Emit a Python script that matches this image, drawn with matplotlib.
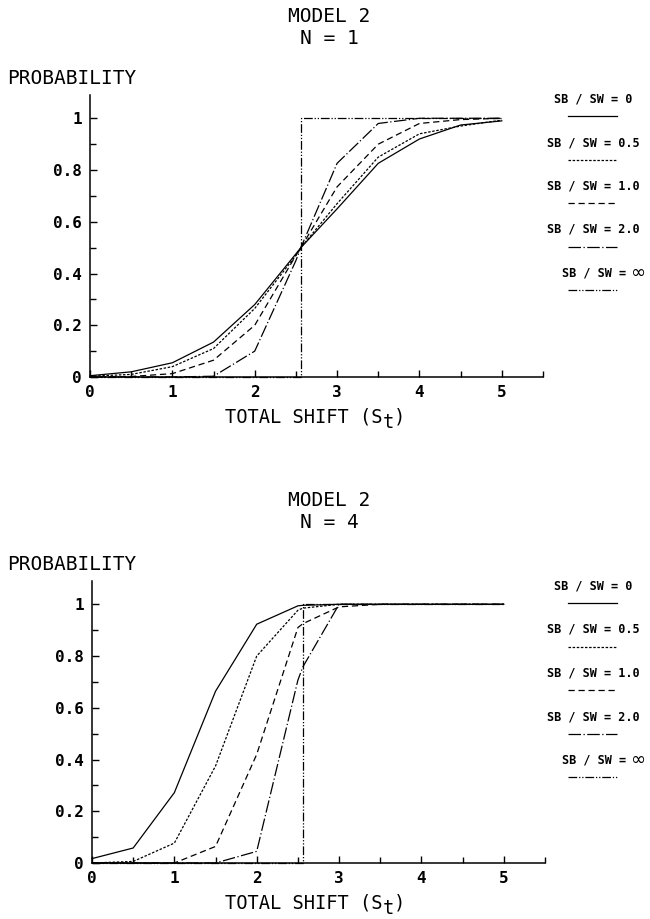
import matplotlib
matplotlib.use('Agg')
import matplotlib.pyplot as plt
from matplotlib.lines import Line2D
from matplotlib.ticker import MultipleLocator

plt.rcParams['font.family'] = ['DejaVu Sans Mono', 'DejaVu Sans']

# shift values (2.56 = crossing / step point)
shift = [0, 0.5, 1, 1.5, 2, 2.5, 2.56, 3, 3.5, 4, 4.5, 5]
step_x = [0, 2.56, 2.56, 5]
step_y = [0, 0, 1, 1]

# N = 1
n1_r0   = [0.005, 0.02, 0.055, 0.135, 0.28, 0.476, 0.5, 0.65, 0.826, 0.92, 0.974, 0.99]
n1_r05  = [0.003, 0.01, 0.04, 0.11, 0.265, 0.47, 0.5, 0.67, 0.85, 0.94, 0.97, 0.993]
n1_r10  = [0.0, 0.002, 0.013, 0.065, 0.2, 0.47, 0.5, 0.735, 0.9, 0.98, 0.995, 1.0]
n1_r20  = [0.0, 0.0, 0.0, 0.003, 0.1, 0.45, 0.5, 0.826, 0.98, 1.0, 1.0, 1.0]

# N = 4
n4_r0   = [0.017, 0.058, 0.272, 0.664, 0.923, 0.994, 0.996, 1.0, 1.0, 1.0, 1.0, 1.0]
n4_r05  = [0.0, 0.006, 0.077, 0.375, 0.8, 0.977, 0.985, 1.0, 1.0, 1.0, 1.0, 1.0]
n4_r10  = [0.0, 0.0, 0.0, 0.064, 0.42, 0.91, 0.925, 0.99, 1.0, 1.0, 1.0, 1.0]
n4_r20  = [0.0, 0.0, 0.0, 0.0, 0.045, 0.707, 0.758, 1.0, 1.0, 1.0, 1.0, 1.0]

legend_labels = ['SB / SW = 0', 'SB / SW = 0.5', 'SB / SW = 1.0',
                 'SB / SW = 2.0', 'SB / SW =']
styles = ['-', (0, (2, 1.3)), (0, (5, 3)), (0, (10, 2, 1, 2)),
          (0, (7, 1.5, 1, 1.5, 1, 1.5))]

W, H = 650, 919
fig = plt.figure(figsize=(6.5, 9.19), dpi=100)
fig.patch.set_facecolor('white')

def fx(px):
    return px / W

def fy(py):
    return 1 - py / H

def panel(top_px, bottom_px, left_px, right_px, series, ntext, title_y, leg_y):
    ax = fig.add_axes([fx(left_px), fy(bottom_px),
                       fx(right_px) - fx(left_px), fy(top_px) - fy(bottom_px)])
    for ys, ls in zip(series, styles[:4]):
        ax.plot(shift, ys, color='black', lw=0.9, linestyle=ls, clip_on=False)
    ax.plot(step_x, step_y, color='black', lw=0.9, linestyle=styles[4], clip_on=False)
    ax.set_xlim(0, 5.5)
    ax.set_ylim(0, 1.09)
    for s in ['top', 'right']:
        ax.spines[s].set_visible(False)
    for s in ['left', 'bottom']:
        ax.spines[s].set_linewidth(1.1)
    ax.set_xticks([0, 1, 2, 3, 4, 5])
    ax.set_xticklabels(['0', '1', '2', '3', '4', '5'])
    ax.set_yticks([0, 0.2, 0.4, 0.6, 0.8, 1.0])
    ax.set_yticklabels(['0', '0.2', '0.4', '0.6', '0.8', '1'])
    ax.xaxis.set_minor_locator(MultipleLocator(0.5))
    ax.yaxis.set_minor_locator(MultipleLocator(0.1))
    ax.tick_params(which='both', direction='in', width=1.0, labelsize=11.5)
    ax.tick_params(which='major', length=5, pad=6)
    ax.tick_params(which='minor', length=4)
    for t in ax.get_xticklabels() + ax.get_yticklabels():
        t.set_fontweight('bold')

    # x label with a full-size, lowered "t"
    xl_y = bottom_px + 40
    fig.text(fx(225), fy(xl_y), 'TOTAL SHIFT (S', ha='left', va='center', fontsize=13.5)
    fig.text(fx(383), fy(xl_y + 6), 't', ha='left', va='center', fontsize=13.5)
    fig.text(fx(394), fy(xl_y), ')', ha='left', va='center', fontsize=13.5)

    fig.text(fx(329), fy(title_y), 'MODEL 2', ha='center', va='center', fontsize=14)
    fig.text(fx(329), fy(title_y + 23), ntext, ha='center', va='center', fontsize=14)
    fig.text(fx(7), fy(top_px - 16), 'PROBABILITY', ha='left', va='center', fontsize=14)

    for i, (lab, ls) in enumerate(zip(legend_labels, styles)):
        ty = leg_y + i * 43.5
        if i == 4:
            fig.text(fx(562), fy(ty), lab, ha='left', va='center',
                     fontsize=8.5, fontweight='bold')
            fig.text(fx(630), fy(ty), '\u221e', ha='left', va='center',
                     fontsize=13, family='DejaVu Sans')
        else:
            fig.text(fx(593), fy(ty), lab, ha='center', va='center',
                     fontsize=8.5, fontweight='bold')
        fig.add_artist(Line2D([fx(568), fx(617)], [fy(ty + 17), fy(ty + 17)],
                              color='black', lw=0.9, linestyle=ls))
    return ax

panel(95, 377, 90, 543, [n1_r0, n1_r05, n1_r10, n1_r20], 'N = 1', 16, 99)
panel(581, 863, 92, 545, [n4_r0, n4_r05, n4_r10, n4_r20], 'N = 4', 500, 586)

fig.savefig('out.png', dpi=100, facecolor='white')
